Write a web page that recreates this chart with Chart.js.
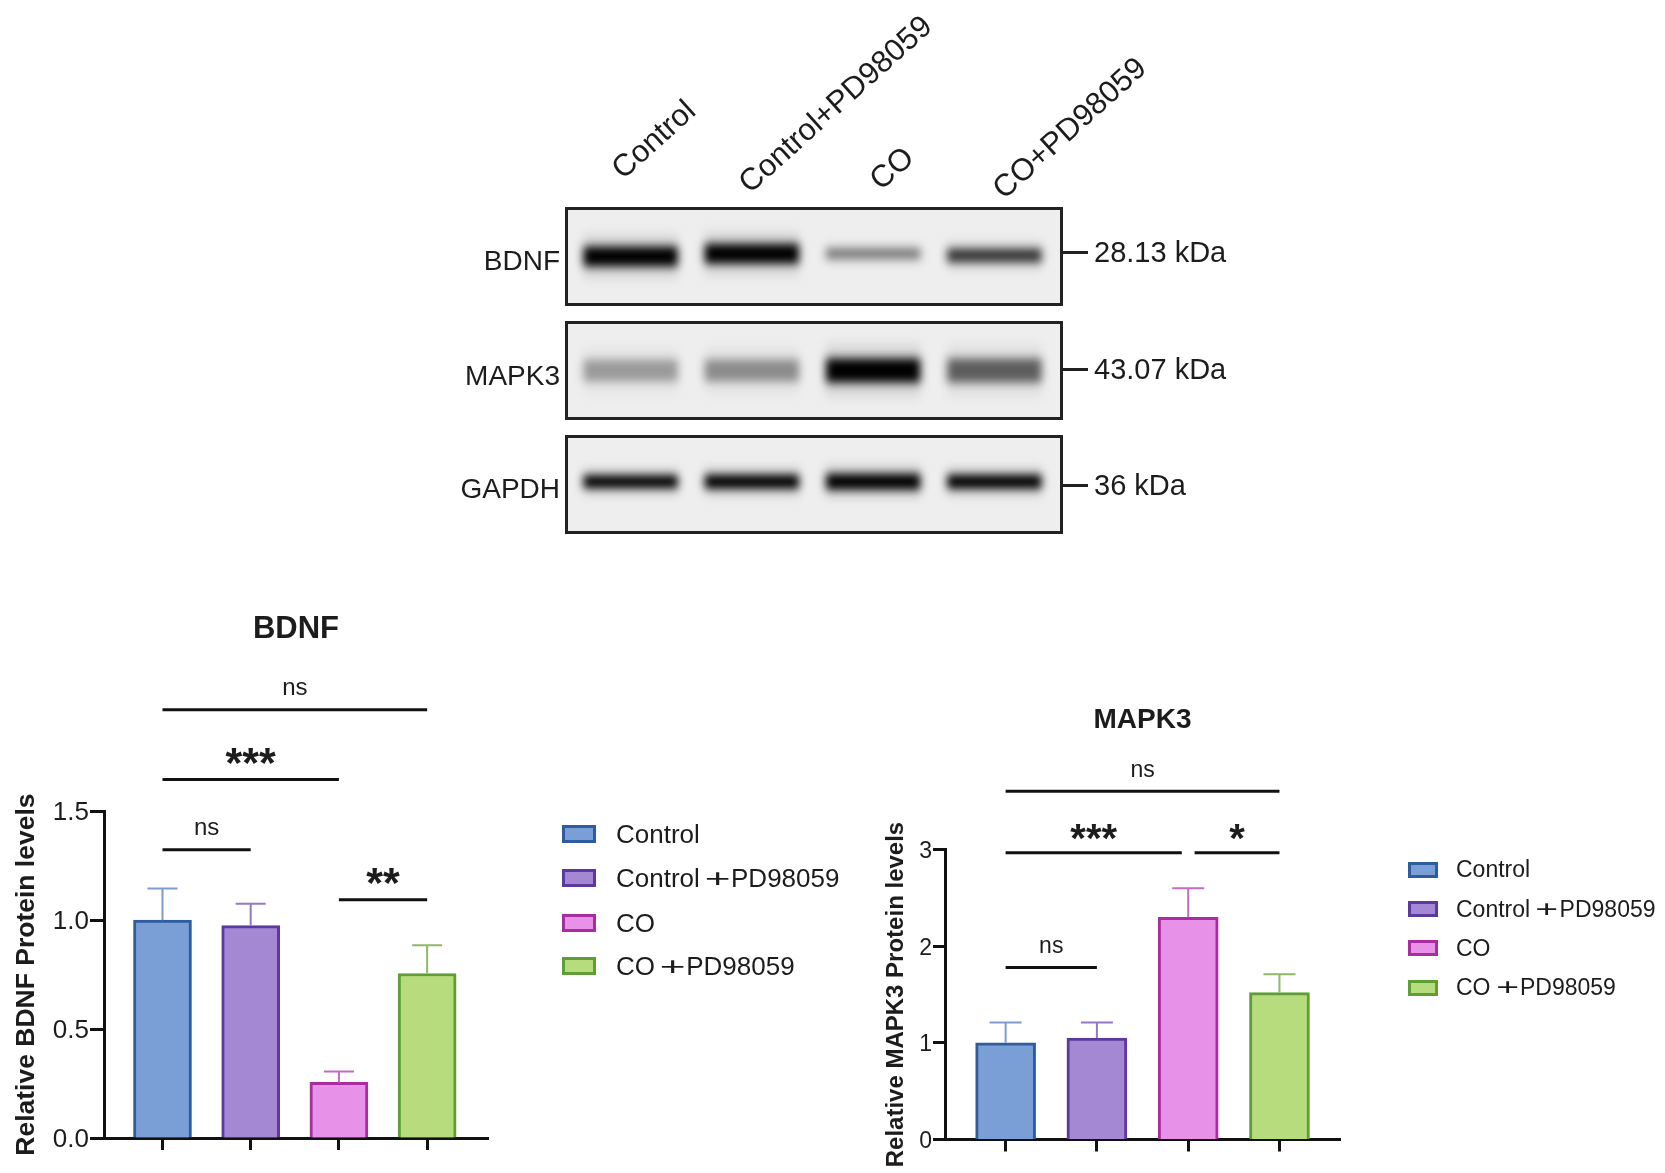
<!DOCTYPE html>
<html>
<head>
<meta charset="utf-8">
<script src="https://cdn.jsdelivr.net/npm/chart.js@4"></script>
<style>
  html, body { margin: 0; background: #fff; }
  #page { position: relative; width: 1665px; height: 1173px; overflow: hidden; font-family: "Liberation Sans", Arial, sans-serif; color: #1c1c1c; filter: blur(0.6px); }
  #page canvas, .lbl, .panel, .dash, .swatch { position: absolute; }
  .lbl { white-space: nowrap; line-height: 1; }
  .lbl span { display: inline-block; transform: scaleX(1.7); margin: 0 6px 0 10px; }
  .panel { box-sizing: border-box; border: 3px solid #222; background: #eeeeee; overflow: hidden; }
  .panel canvas { left: 0; top: 0; filter: blur(4px); }
  .dash { height: 3px; background: #222; }
  .swatch { box-sizing: border-box; border-style: solid; border-width: 3px; }
</style>
</head>
<body>
<div id="page"></div>
<script>
const categories = ['Control', 'Control+PD98059', 'CO', 'CO+PD98059']
const barFill = ['#7a9fd6', '#a588d3', '#e891e8', '#b7dc7d']
const barEdge = ['#2f5c9e', '#5b3a9e', '#a82ea0', '#5f9e35']
const errEdge = ['#7d9ccc', '#9479c2', '#c56cc2', '#8fb868']

const bdnfValues = [1.0, 0.975, 0.255, 0.755]
const bdnfErrTop = [1.145, 1.075, 0.305, 0.885]
const bdnfTicks = [0, 0.5, 1.0, 1.5]
const bdnfBrackets = [[0, 3, 1.966, 'ns'], [0, 2, 1.645, '***'], [0, 1, 1.323, 'ns'], [2, 3, 1.094, '**']]

const mapkValues = [1.0, 1.05, 2.3, 1.52]
const mapkErrTop = [1.21, 1.21, 2.6, 1.71]
const mapkTicks = [0, 1, 2, 3]
const mapkBrackets = [[0, 3, 3.604, 'ns'], [0, 1.93, 2.967, '***'], [2.07, 3, 2.967, '*'], [0, 1, 1.78, 'ns']]

// blot panels: band darkness, vertical centre and thickness for each lane
const blotNames = ['BDNF', 'MAPK3', 'GAPDH']
const blotSizes = ['28.13 kDa', '43.07 kDa', '36 kDa']
const bdnfBandDark = [1, 1, 0.42, 0.72]
const bdnfBandMid = [0.5, 0.47, 0.47, 0.49]
const bdnfBandThick = [0.2, 0.2, 0.11, 0.14]
const mapkBandDark = [0.3, 0.36, 1, 0.55]
const mapkBandMid = [0.5, 0.5, 0.5, 0.5]
const mapkBandThick = [0.22, 0.22, 0.24, 0.24]
const gapdhBandDark = [1, 1, 1, 1]
const gapdhBandMid = [0.47, 0.47, 0.47, 0.47]
const gapdhBandThick = [0.13, 0.14, 0.16, 0.14]

const page = document.getElementById('page')

function addLabel(text, left, midY, size, extra) {
    var el = document.createElement('div')
    el.className = 'lbl'
    el.textContent = text
    el.style.left = left + 'px'
    el.style.top = (midY - size / 2) + 'px'
    el.style.fontSize = size + 'px'
    if (extra) Object.assign(el.style, extra)
    page.appendChild(el)
    return el
}

function addCanvas(parent, left, top, w, h) {
    var c = document.createElement('canvas')
    c.width = w
    c.height = h
    c.style.left = left + 'px'
    c.style.top = top + 'px'
    parent.appendChild(c)
    return c
}

// error bars (upper arm only) and significance brackets, placed through the scales
const markPlugin = {
    id: 'marks',
    afterDatasetsDraw(chart, args, o) {
        var ctx = chart.ctx, xs = chart.scales.x, ys = chart.scales.y
        ctx.save()
        o.errTop.forEach(function (top, i) {
            var x = xs.getPixelForValue(i), y = ys.getPixelForValue(top)
            ctx.strokeStyle = errEdge[i]
            ctx.lineWidth = 2
            ctx.beginPath()
            ctx.moveTo(x, ys.getPixelForValue(o.values[i]))
            ctx.lineTo(x, y)
            ctx.moveTo(x - o.cap, y)
            ctx.lineTo(x + o.cap, y)
            ctx.stroke()
        })
        ctx.strokeStyle = '#111'
        ctx.fillStyle = '#1c1c1c'
        ctx.textAlign = 'center'
        o.brackets.forEach(function (b) {
            var x0 = xs.getPixelForValue(b[0]), x1 = xs.getPixelForValue(b[1]), y = ys.getPixelForValue(b[2])
            ctx.lineWidth = 3
            ctx.beginPath()
            ctx.moveTo(x0, y)
            ctx.lineTo(x1, y)
            ctx.stroke()
            if (b[3] == 'ns') {
                ctx.font = o.nsSize + 'px "Liberation Sans"'
                ctx.fillText(b[3], (x0 + x1) / 2, y - o.nsLift)
            } else {
                ctx.font = 'bold ' + o.starSize + 'px "Liberation Sans"'
                ctx.fillText(b[3], (x0 + x1) / 2, y - o.starLift)
            }
        })
        ctx.restore()
    }
}

function barChart(s) {
    var canvas = addCanvas(page, s.left, s.top, s.w, s.h)
    new Chart(canvas, {
        type: 'bar',
        data: {
            datasets: [{
                data: s.values.map(function (v, i) { return { x: i, y: v } }),
                backgroundColor: barFill,
                borderColor: barEdge,
                borderWidth: 3,
                barThickness: s.barW
            }]
        },
        plugins: [markPlugin],
        options: {
            responsive: false,
            animation: false,
            layout: { autoPadding: false, padding: { right: s.padR, bottom: s.padB } },
            plugins: {
                legend: { display: false },
                tooltip: { enabled: false },
                title: {
                    display: true,
                    fullSize: false,
                    text: s.title,
                    color: '#1c1c1c',
                    font: { family: 'Liberation Sans', size: s.titleSize, weight: 'bold' },
                    padding: { top: s.titleTop, bottom: s.titleBottom }
                },
                marks: s.marks
            },
            scales: {
                x: {
                    type: 'linear',
                    offset: false,
                    min: s.xMin,
                    max: s.xMax,
                    afterBuildTicks: function (ax) { ax.ticks = s.values.map(function (v, i) { return { value: i } }) },
                    afterFit: function (ax) { ax.height = 12 },
                    ticks: { display: false },
                    grid: { offset: false, drawOnChartArea: false, tickLength: 12, tickWidth: 3, tickColor: '#111' },
                    border: { color: '#111', width: 3 }
                },
                y: {
                    min: s.ticks[0],
                    max: s.ticks[s.ticks.length - 1],
                    afterBuildTicks: function (ax) { ax.ticks = s.ticks.map(function (v) { return { value: v } }) },
                    afterFit: function (ax) { ax.width = s.axisW },
                    ticks: {
                        padding: 1,
                        labelOffset: 2,
                        color: '#1c1c1c',
                        font: { family: 'Liberation Sans', size: s.tickSize },
                        callback: function (v) { return v.toFixed(s.digits) }
                    },
                    grid: { drawOnChartArea: false, tickLength: s.tickLen, tickWidth: 3, tickColor: '#111' },
                    border: { color: '#111', width: 3 },
                    title: {
                        display: true,
                        text: s.yTitle,
                        color: '#1c1c1c',
                        font: { family: 'Liberation Sans', size: s.yTitleSize, weight: 'bold' },
                        padding: { top: s.yTitlePad, bottom: 0 }
                    }
                }
            }
        }
    })
}

function blotPanel(top, dark, mid, thick) {
    var panel = document.createElement('div')
    panel.className = 'panel'
    panel.style.left = '565px'
    panel.style.top = top + 'px'
    panel.style.width = '498px'
    panel.style.height = '99px'
    page.appendChild(panel)
    var canvas = addCanvas(panel, 0, 0, 492, 93)
    var spread = function (k, a) {
        return {
            data: mid.map(function (m, i) { return [1 - m - thick[i] * k / 2, 1 - m + thick[i] * k / 2] }),
            backgroundColor: dark.map(function (d) { return 'rgba(0,0,0,' + d * a + ')' }),
            borderWidth: 0,
            borderSkipped: false,
            barPercentage: 0.78,
            categoryPercentage: 1,
            grouped: false
        }
    }
    new Chart(canvas, {
        type: 'bar',
        data: { labels: categories, datasets: [spread(2.6, 0.06), spread(1.6, 0.2), spread(1, 1)] },
        options: {
            responsive: false,
            animation: false,
            layout: { autoPadding: false, padding: { left: 2, right: 5 } },
            plugins: { legend: { display: false }, tooltip: { enabled: false } },
            scales: {
                x: { display: false },
                y: { display: false, min: 0, max: 1 }
            }
        }
    })
}

function legend(x, ys, boxW, boxH, textX, size) {
    categories.forEach(function (name, i) {
        var box = document.createElement('div')
        box.className = 'swatch'
        box.style.left = x + 'px'
        box.style.top = (ys[i] - boxH / 2) + 'px'
        box.style.width = boxW + 'px'
        box.style.height = boxH + 'px'
        box.style.background = barFill[i]
        box.style.borderColor = barEdge[i]
        page.appendChild(box)
        var el = addLabel(name, textX, ys[i], size)
        // the plus sign is drawn wide in the source figure
        if (name.indexOf('+') > 0) el.innerHTML = name.replace('+', '<span>+</span>')
    })
}

// lane headers
const headerSpots = [[616, 172], [743, 186], [874, 183], [997, 192]]
categories.forEach(function (name, i) {
    addLabel(name, headerSpots[i][0], headerSpots[i][1], 31,
        { transform: 'rotate(-42deg)', transformOrigin: '0 50%' })
})

blotPanel(207, bdnfBandDark, bdnfBandMid, bdnfBandThick)
blotPanel(321, mapkBandDark, mapkBandMid, mapkBandThick)
blotPanel(435, gapdhBandDark, gapdhBandMid, gapdhBandThick)

const blotNameY = [261, 376, 489]
const blotSizeY = [252, 369, 485]
blotNames.forEach(function (name, i) {
    addLabel(name, 0, blotNameY[i], 28, { left: 'auto', right: (1665 - 560) + 'px' })
    var d = document.createElement('div')
    d.className = 'dash'
    d.style.left = '1063px'
    d.style.width = '25px'
    d.style.top = (blotSizeY[i] - 1) + 'px'
    page.appendChild(d)
    addLabel(blotSizes[i], 1094, blotSizeY[i], 29)
})

barChart({
    left: 0, top: 600, w: 590, h: 573, axisW: 104, padR: 102, padB: 23,
    title: 'BDNF', titleSize: 31, titleTop: 10.5, titleBottom: 163.5,
    values: bdnfValues, barW: 58, xMin: -0.663, xMax: 3.69,
    ticks: bdnfTicks, digits: 1, tickSize: 26, tickLen: 14,
    yTitle: 'Relative BDNF Protein levels', yTitleSize: 26.5, yTitlePad: 11,
    marks: { values: bdnfValues, errTop: bdnfErrTop, brackets: bdnfBrackets, cap: 15,
        nsSize: 24, nsLift: 15, starSize: 43, starLift: 3 }
})

barChart({
    left: 860, top: 680, w: 568, h: 493, axisW: 85, padR: 88, padB: 21.5,
    title: 'MAPK3', titleSize: 28, titleTop: 23, titleBottom: 113,
    values: mapkValues, barW: 60, xMin: -0.664, xMax: 3.663,
    ticks: mapkTicks, digits: 0, tickSize: 23, tickLen: 12,
    yTitle: 'Relative MAPK3 Protein levels', yTitleSize: 24, yTitlePad: 22,
    marks: { values: mapkValues, errTop: mapkErrTop, brackets: mapkBrackets, cap: 16,
        nsSize: 23, nsLift: 14, starSize: 40, starLift: 1 }
})

legend(562, [833.5, 878, 923, 966], 34, 18, 616, 26)
legend(1408, [869.5, 909, 948, 987.5], 30, 16, 1456, 23)
</script>
</body>
</html>
